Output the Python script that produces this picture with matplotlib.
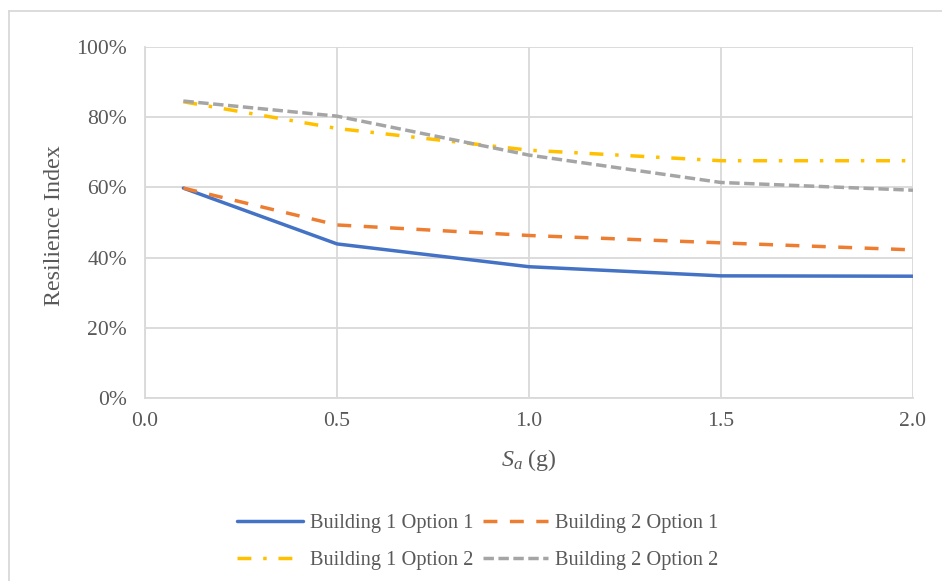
import matplotlib
matplotlib.use("Agg")
import matplotlib.pyplot as plt
from matplotlib.lines import Line2D
from matplotlib.ticker import PercentFormatter

plt.rcParams['font.family'] = ['Liberation Serif', 'DejaVu Serif']
plt.rcParams['mathtext.fontset'] = 'custom'
plt.rcParams['mathtext.rm'] = 'Liberation Serif'
plt.rcParams['mathtext.it'] = 'Liberation Serif:italic'

sa = [0.1, 0.5, 1.0, 1.5, 2.0]
b1_opt1 = [59.8, 43.9, 37.4, 34.8, 34.7]
b2_opt1 = [59.8, 49.3, 46.3, 44.2, 42.2]
b1_opt2 = [84.4, 76.8, 70.6, 67.6, 67.6]
b2_opt2 = [84.6, 80.3, 69.2, 61.4, 59.2]
labels = ["Building 1 Option 1", "Building 2 Option 1",
          "Building 1 Option 2", "Building 2 Option 2"]
xticks = [0.0, 0.5, 1.0, 1.5, 2.0]
yticks = [0, 20, 40, 60, 80, 100]

W, H = 942, 581
fig = plt.figure(figsize=(W / 100, H / 100), dpi=100)
ax = fig.add_axes([145 / W, 1 - 398 / H, (913 - 145) / W, (398 - 47) / H])

txt = '#595959'
grid = '#d9d9d9'
lw = 2.5

l1, = ax.plot(sa, b1_opt1, color='#4472c4', lw=lw, solid_capstyle='round', solid_joinstyle='round')
l2, = ax.plot(sa, b2_opt1, color='#ed7d31', lw=lw, dashes=(4, 3.6), dash_capstyle='butt')
l3, = ax.plot(sa, b1_opt2, color='#ffc000', lw=lw, dashes=(4, 3.4, 1, 3.4), dash_capstyle='butt')
l4, = ax.plot(sa, b2_opt2, color='#a5a5a5', lw=lw, dashes=(3, 1.3), dash_capstyle='butt')

ax.set_xlim(0, 2.0)
ax.set_ylim(0, 100)
ax.set_xticks(xticks)
ax.set_yticks(yticks)
ax.set_xticklabels([f"{v:.1f}" for v in xticks])
ax.yaxis.set_major_formatter(PercentFormatter(decimals=0))
ax.grid(True, color=grid, lw=1.3)
ax.set_axisbelow(True)
for s in ['top', 'right']:
    ax.spines[s].set_visible(False)
for s in ['left', 'bottom']:
    ax.spines[s].set_color(grid)
    ax.spines[s].set_linewidth(1.3)
ax.tick_params(length=0, labelsize=15.6, colors=txt)
ax.tick_params(axis='y', pad=13)
ax.tick_params(axis='x', pad=10)

ax.set_ylabel("Resilience Index", fontsize=17.3, color=txt)
ax.yaxis.set_label_coords((65 - 145) / 768, 0.49)
ax.set_xlabel(r"$S_a$ (g)", fontsize=17.3, color=txt)
ax.xaxis.set_label_coords(0.5, (398 - 447) / 351)

fig.legend([l1, l3, l2, l4], [labels[0], labels[2], labels[1], labels[3]],
           ncol=2, loc='center', bbox_to_anchor=(478 / W, 1 - 542 / H),
           frameon=False, fontsize=14.7, handlelength=3.2, handletextpad=0.35,
           columnspacing=0.45, labelspacing=0.9, labelcolor=txt)

# chart area border (top and left)
fig.add_artist(Line2D([9 / W, 1], [1 - 11 / H, 1 - 11 / H], color=grid, lw=1.3, transform=fig.transFigure))
fig.add_artist(Line2D([9 / W, 9 / W], [0, 1 - 11 / H], color=grid, lw=1.3, transform=fig.transFigure))

fig.savefig("out.png", dpi=100)
